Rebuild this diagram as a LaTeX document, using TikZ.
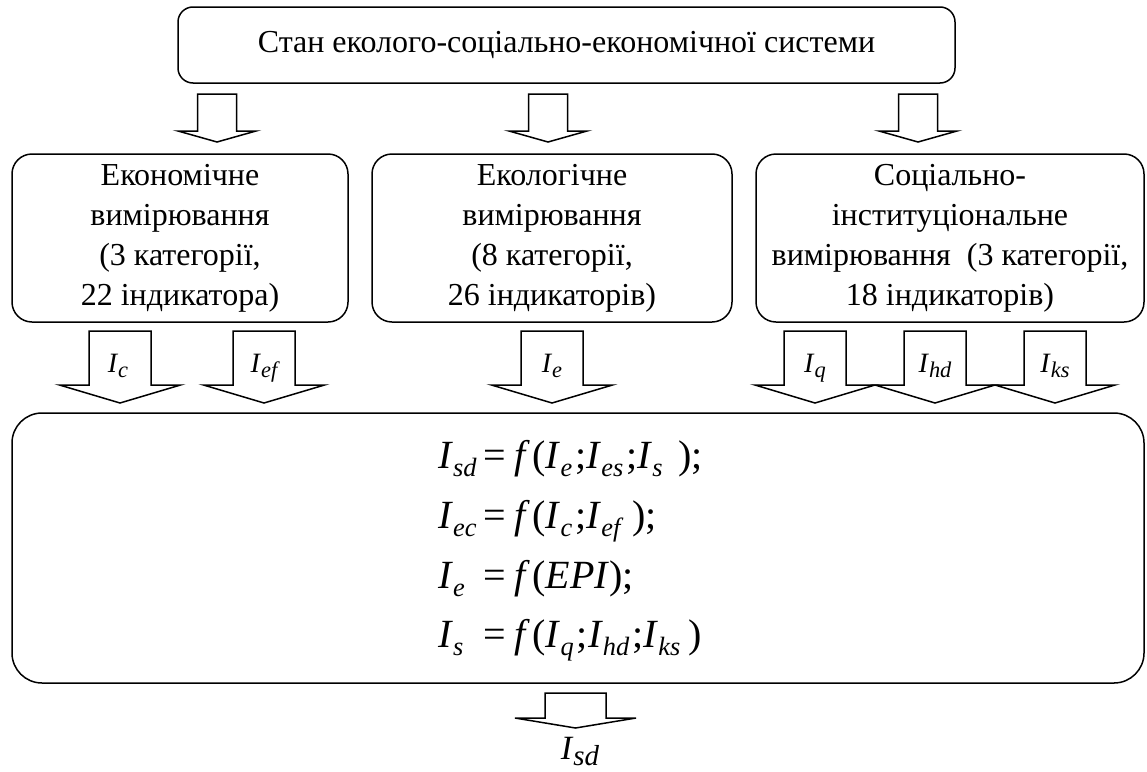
\documentclass[tikz,border=0pt]{standalone}
\usepackage{fontspec}
\setmainfont{Liberation Serif}
\makeatletter
\newcommand\Sub[2][0.66]{\raisebox{-0.2em}{\fontsize{\fpeval{#1*\f@size}}{0}\selectfont\itshape #2}}
\makeatother
\newcommand\Iv{\textit{I}}
\newcommand\Lhs[1]{\makebox[45pt][l]{#1}=\hspace{9pt}\textit{f}\kern2pt}
\newcommand\barrow[6]{%
  \draw[barr] ({#1-#5},#2) -- ({#1+#5},#2) -- ({#1+#5},#3) -- ({#1+#6},#3) -- (#1,#4) -- ({#1-#6},#3) -- ({#1-#5},#3) -- cycle;}
\tikzset{
  box/.style={draw, line width=1.5pt, align=center, inner sep=0pt,
    font=\fontsize{32}{40}\selectfont},
  barr/.style={draw, line width=1.5pt, line join=miter, fill=white},
  form/.style={inner sep=0pt, font=\fontsize{40}{40}\selectfont},
  lab/.style={inner sep=0pt, font=\fontsize{28}{28}\selectfont},
}
\begin{document}
\begin{tikzpicture}[x=1pt, y=-1pt]
\useasboundingbox (0,0) rectangle (1147,771);
% boxes
\node[box, rounded corners=15pt, minimum width=777pt, minimum height=76pt] (top) at (566.5,45)
  {Стан еколого-соціально-економічної системи};
\node[box, rounded corners=20pt, minimum width=336pt, minimum height=168pt] (econ) at (180,238)
  {Економічне\\вимірювання\\(3 категорії,\\22 індикатора)};
\node[box, rounded corners=20pt, minimum width=360pt, minimum height=168pt] (ecol) at (552,238)
  {Екологічне\\вимірювання\\(8 категорії,\\26 індикаторів)};
\node[box, rounded corners=20pt, minimum width=388pt, minimum height=168pt] (soc) at (950,238)
  {Соціально-\\інституціональне\\вимірювання~ (3 категорії,\\18 індикаторів)};
\node[box, rounded corners=30pt, minimum width=1132pt, minimum height=270pt] (big) at (578,548) {};
% top arrows
\barrow{217}{94}{131}{142}{19.5}{39}
\barrow{548}{94}{131}{142}{19.5}{39}
\barrow{918}{94}{131}{142}{19.5}{39}
% labelled arrows
\barrow{120}{331}{385}{403}{31}{60.5}
\barrow{264}{331}{385}{403}{31}{60.5}
\barrow{552}{331}{385}{403}{31}{60.5}
\barrow{815}{331}{385}{403}{31}{60}
\barrow{935}{331}{385}{403}{31}{60}
\barrow{1055}{331}{385}{403}{31}{60}
\node[lab, anchor=base] (lc) at (118,372) {\Iv\Sub[0.8]{c}};
\node[lab, anchor=base] (lef) at (264,372) {\Iv\Sub[0.8]{ef}};
\node[lab, anchor=base] (le) at (552,372) {\Iv\Sub[0.8]{e}};
\node[lab, anchor=base] (lq) at (815,372) {\Iv\Sub[0.8]{q}};
\node[lab, anchor=base] (lhd) at (935,372) {\Iv\Sub[0.8]{hd}};
\node[lab, anchor=base] (lks) at (1055,372) {\Iv\Sub[0.8]{ks}};
% formulas
\node[form, anchor=base west] (f1) at (438,468)
  {\Lhs{\Iv\Sub{sd}}(\Iv\Sub{e}\hspace{3pt};\Iv\Sub{es}\hspace{3pt};\Iv\Sub{s}\hspace{16pt});};
\node[form, anchor=base west] (f2) at (438,528)
  {\Lhs{\Iv\Sub{ec}}(\Iv\Sub{c}\hspace{3pt};\Iv\Sub{ef}\hspace{12pt});};
\node[form, anchor=base west] (f3) at (438,588)
  {\Lhs{\Iv\Sub{e}}(\textit{EPI});};
\node[form, anchor=base west] (f4) at (438,647)
  {\Lhs{\Iv\Sub{s}}(\Iv\Sub{q}\hspace{3pt};\Iv\Sub{hd}\hspace{3pt};\Iv\Sub{ks}\hspace{8pt})};
% bottom arrow
\barrow{575.5}{693}{718}{728}{30.5}{60.5}
\node[lab, anchor=base, font=\fontsize{34}{34}\selectfont] (lsd) at (580,759) {\Iv\Sub[0.85]{sd}};
\end{tikzpicture}
\end{document}
